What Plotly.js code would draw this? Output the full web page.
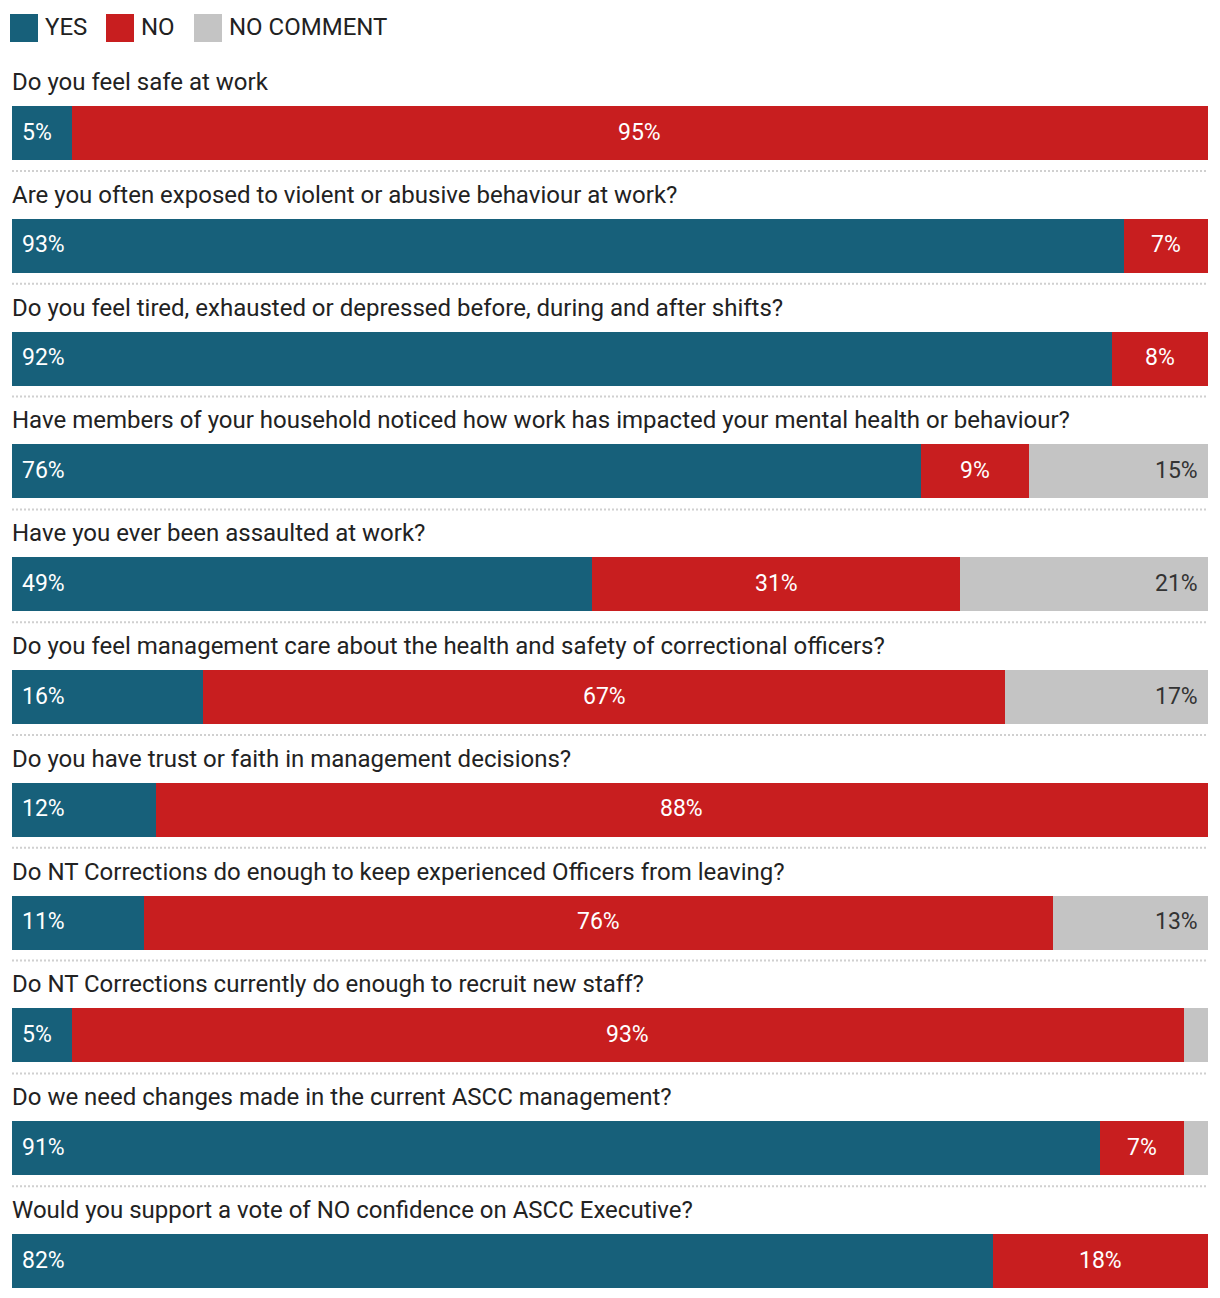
<!DOCTYPE html>
<html>
<head>
<meta charset="utf-8">
<script src="https://cdn.plot.ly/plotly-3.0.1.min.js"></script>
<style>
  html, body { margin: 0; padding: 0; background: #ffffff; }
  #chart { width: 1220px; height: 1298px; }
</style>
</head>
<body>
<div id="chart"></div>
<script>
const questions = [
  "Do you feel safe at work",
  "Are you often exposed to violent or abusive behaviour at work?",
  "Do you feel tired, exhausted or depressed before, during and after shifts?",
  "Have members of your household noticed how work has impacted your mental health or behaviour?",
  "Have you ever been assaulted at work?",
  "Do you feel management care about the health and safety of correctional officers?",
  "Do you have trust or faith in management decisions?",
  "Do NT Corrections do enough to keep experienced Officers from leaving?",
  "Do NT Corrections currently do enough to recruit new staff?",
  "Do we need changes made in the current ASCC management?",
  "Would you support a vote of NO confidence on ASCC Executive?"
];
const yesValues = [5, 93, 92, 76, 48.5, 16, 12, 11, 5, 91, 82];
const noValues = [95, 7, 8, 9, 30.8, 67, 88, 76, 93, 7, 18];
const noCommentValues = [0, 0, 0, 15, 20.7, 17, 0, 13, 2, 2, 0];
const seriesNames = ["YES", "NO", "NO COMMENT"];

const COLORS = { yes: "#17607a", no: "#c81e1f", nc: "#c4c4c4" };
const FONT = "Roboto, 'Noto Sans', sans-serif";
const W = 1220, H = 1298;
const ROW_PX = 112.8;
const idx = questions.map((q, i) => i);
const label = v => (v >= 5 ? Math.round(v) + "%" : "");

function barTrace(name, values, color) {
  return {
    type: "bar", orientation: "h", name: name,
    y: idx, x: values,
    width: 54 / ROW_PX,
    marker: { color: color, line: { width: 0 } },
    hoverinfo: "skip", showlegend: false
  };
}

const data = [
  barTrace(seriesNames[0], yesValues, COLORS.yes),
  barTrace(seriesNames[1], noValues, COLORS.no),
  barTrace(seriesNames[2], noCommentValues, COLORS.nc)
];

const annotations = [];
const shapes = [];
const LABEL_SIZE = 23;

questions.forEach((q, i) => {
  annotations.push({
    xref: "x", yref: "y", x: 0, y: i, yshift: 51, xshift: -2,
    xanchor: "left", yanchor: "middle", showarrow: false,
    text: q, font: { family: FONT, size: 24, color: "#222222" }
  });
  if (label(yesValues[i])) annotations.push({
    xref: "x", yref: "y", x: 0, y: i, xshift: 8, yshift: 1,
    xanchor: "left", yanchor: "middle", showarrow: false,
    text: label(yesValues[i]), font: { family: FONT, size: LABEL_SIZE, color: "#ffffff" }
  });
  if (label(noValues[i])) annotations.push({
    xref: "x", yref: "y", x: yesValues[i] + noValues[i] / 2, y: i, yshift: 1,
    xanchor: "center", yanchor: "middle", showarrow: false,
    text: label(noValues[i]), font: { family: FONT, size: LABEL_SIZE, color: "#ffffff" }
  });
  if (label(noCommentValues[i])) annotations.push({
    xref: "x", yref: "y", x: yesValues[i] + noValues[i] + noCommentValues[i], y: i, xshift: -8, yshift: 1,
    xanchor: "right", yanchor: "middle", showarrow: false,
    text: label(noCommentValues[i]), font: { family: FONT, size: LABEL_SIZE, color: "#333333" }
  });
  if (i < questions.length - 1) shapes.push({
    type: "line", xref: "paper", yref: "y",
    x0: 12 / W, x1: 1208 / W, y0: i + 38 / ROW_PX, y1: i + 38 / ROW_PX,
    line: { color: "#d0d0d0", width: 2, dash: "2px,2px" }
  });
});

const legendItems = [
  { name: seriesNames[0], color: COLORS.yes, x: 10 },
  { name: seriesNames[1], color: COLORS.no, x: 106 },
  { name: seriesNames[2], color: COLORS.nc, x: 194 }
];
legendItems.forEach(it => {
  shapes.push({
    type: "rect", xref: "paper", yref: "paper",
    x0: it.x / W, x1: (it.x + 28) / W, y0: 1 - 42 / H, y1: 1 - 14 / H,
    fillcolor: it.color, line: { width: 0 }
  });
  annotations.push({
    xref: "paper", yref: "paper", x: (it.x + 33) / W, y: 1 - 27 / H,
    xanchor: "left", yanchor: "middle", showarrow: false,
    text: it.name, font: { family: FONT, size: 24, color: "#222222" }
  });
});

const pxPerUnit = 1196 / 100;
const layout = {
  width: W, height: H,
  margin: { l: 0, r: 0, t: 0, b: 0 },
  paper_bgcolor: "#ffffff", plot_bgcolor: "#ffffff",
  barmode: "stack",
  showlegend: false,
  xaxis: {
    range: [-12 / pxPerUnit, 100 + 12 / pxPerUnit],
    visible: false, fixedrange: true
  },
  yaxis: {
    range: [10 + 37 / ROW_PX, -133 / ROW_PX],
    visible: false, fixedrange: true
  },
  annotations: annotations,
  shapes: shapes
};

Plotly.newPlot("chart", data, layout, { displayModeBar: false, staticPlot: true });
</script>
</body>
</html>
